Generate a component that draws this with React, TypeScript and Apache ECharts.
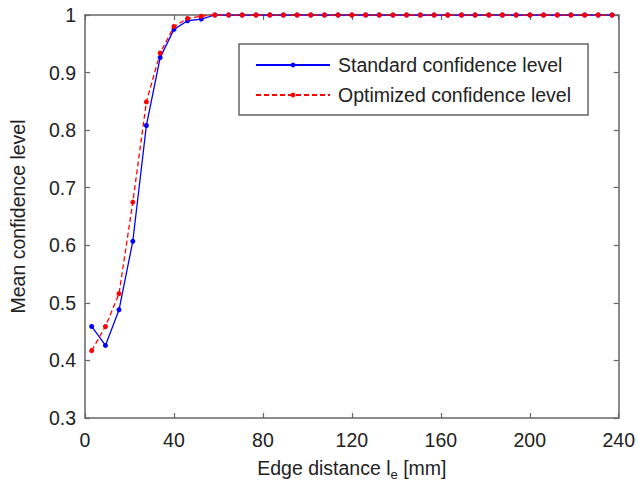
import React, { useEffect, useRef } from "react";
import * as echarts from "echarts";

const xValues = [3, 9.2, 15.3, 21.5, 27.6, 33.8, 40, 46.1, 52.3, 58.4, 64.6, 70.7, 76.9, 83.1, 89.2, 95.4, 101.5, 107.7, 113.8, 120, 126.2, 132.3, 138.5, 144.6, 150.8, 157, 163.1, 169.3, 175.4, 181.6, 187.7, 193.9, 200.1, 206.2, 212.4, 218.5, 224.7, 230.8, 237];

const standardLevel = [0.459, 0.426, 0.488, 0.607, 0.808, 0.926, 0.975, 0.99, 0.993, 1, 1, 1, 1, 1, 1, 1, 1, 1, 1, 1, 1, 1, 1, 1, 1, 1, 1, 1, 1, 1, 1, 1, 1, 1, 1, 1, 1, 1, 1];

const optimizedLevel = [0.417, 0.459, 0.516, 0.675, 0.849, 0.934, 0.98, 0.994, 0.998, 1, 1, 1, 1, 1, 1, 1, 1, 1, 1, 1, 1, 1, 1, 1, 1, 1, 1, 1, 1, 1, 1, 1, 1, 1, 1, 1, 1, 1, 1];

const seriesNames = ["Standard confidence level", "Optimized confidence level"];
const xAxisTitle = "Edge distance l{sub|e} [mm]";
const yAxisTitle = "Mean confidence level";

const FONT = "'Liberation Sans', Arial, Helvetica, sans-serif";
const FS = 19.5;
const AX = "#666";
const TXT = "#222";

export default function App() {
  const ref = useRef<HTMLDivElement>(null);
  useEffect(() => {
    document.body.style.margin = "0";
    const chart = echarts.init(ref.current!, null, { renderer: "svg" });
    const pair = (vals: number[]) => xValues.map((x, i) => [x, vals[i]]);
    const axisCommon = {
      type: "value" as const,
      splitLine: { show: false },
      axisLine: { show: true, onZero: false, lineStyle: { color: AX, width: 1.5 } },
      axisTick: { show: true, inside: true, length: 5, lineStyle: { color: AX, width: 1.2 } },
    };
    chart.setOption({
      animation: false,
      backgroundColor: "#fff",
      textStyle: { fontFamily: FONT },
      grid: { left: 76, right: 19, top: 15, bottom: 64.5, containLabel: false },
      legend: {
        orient: "vertical",
        left: 239,
        top: 44,
        padding: [11, 17, 10, 16],
        itemGap: 10,
        itemWidth: 74,
        itemHeight: 6,
        borderColor: "#666",
        borderWidth: 1.5,
        backgroundColor: "#fff",
        textStyle: { fontSize: FS, color: TXT, fontFamily: FONT, padding: [0, 0, 0, 3] },
        data: seriesNames,
      },
      xAxis: [
        {
          ...axisCommon,
          min: 0,
          max: 240,
          interval: 40,
          position: "bottom",
          name: xAxisTitle,
          nameLocation: "middle",
          nameGap: 36,
          nameTextStyle: {
            fontSize: FS,
            color: TXT,
            fontFamily: FONT,
            rich: { sub: { fontSize: 13, color: TXT, fontFamily: FONT, padding: [14, 0, 0, 0] } },
          },
          axisLabel: { fontSize: FS, color: TXT, fontFamily: FONT, margin: 12 },
        },
        {
          ...axisCommon,
          min: 0,
          max: 240,
          interval: 40,
          position: "top",
          axisLabel: { show: false },
        },
      ],
      yAxis: [
        {
          ...axisCommon,
          min: 0.3,
          max: 1,
          interval: 0.1,
          position: "left",
          name: yAxisTitle,
          nameLocation: "middle",
          nameRotate: 90,
          nameGap: 57,
          nameTextStyle: { fontSize: FS, color: TXT, fontFamily: FONT },
          axisLabel: {
            fontSize: FS,
            color: TXT,
            fontFamily: FONT,
            margin: 9,
            formatter: (v: number) => (Math.abs(v - 1) < 1e-9 ? "1" : v.toFixed(1)),
          },
        },
        {
          ...axisCommon,
          min: 0.3,
          max: 1,
          interval: 0.1,
          position: "right",
          axisLabel: { show: false },
        },
      ],
      series: [
        {
          name: seriesNames[0],
          type: "line",
          data: pair(standardLevel),
          symbol: "circle",
          symbolSize: 5,
          itemStyle: { color: "#0000ff" },
          lineStyle: { color: "#0000ff", width: 1.3 },
        },
        {
          name: seriesNames[1],
          type: "line",
          data: pair(optimizedLevel),
          symbol: "circle",
          symbolSize: 5,
          itemStyle: { color: "#ff0000" },
          lineStyle: { color: "#ff0000", width: 1.3, type: [5, 3] },
        },
      ],
    });
    return () => chart.dispose();
  }, []);
  return <div ref={ref} style={{ width: 638, height: 486 }} />;
}
